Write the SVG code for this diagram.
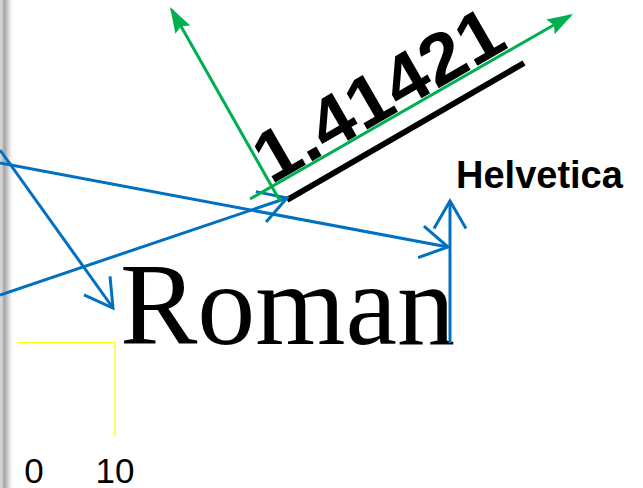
<svg xmlns="http://www.w3.org/2000/svg" width="643" height="488" viewBox="0 0 643 488">
  <style>
    .blue { stroke: #0070c0; stroke-width: 3; fill: none; }
    .green { stroke: #00b050; stroke-width: 3; fill: none; }
    .yellow { stroke: #ffff00; stroke-width: 1.2; fill: none; }
    .sans { font-family: "Liberation Sans", Arial, sans-serif; fill: #000; }
    .serif { font-family: "Liberation Serif", "Times New Roman", serif; fill: #000; }
  </style>
  <defs>
    <linearGradient id="edge" x1="0" y1="0" x2="1" y2="0">
      <stop offset="0" stop-color="#d6d6d6"/>
      <stop offset="0.18" stop-color="#cfcfcf"/>
      <stop offset="0.28" stop-color="#a6a6a6"/>
      <stop offset="0.45" stop-color="#b4b4b4"/>
      <stop offset="0.75" stop-color="#e6e6e6"/>
      <stop offset="1" stop-color="#ffffff"/>
    </linearGradient>
    <marker id="openArrow" markerUnits="userSpaceOnUse" orient="auto" overflow="visible" markerWidth="40" markerHeight="40" refX="0" refY="0">
      <path d="M -27.5 -16 L 0 0 L -27.5 16" fill="none" stroke="#0070c0" stroke-width="3"/>
    </marker>
    <marker id="solidArrow" markerUnits="userSpaceOnUse" orient="auto" overflow="visible" markerWidth="40" markerHeight="40" refX="0" refY="0">
      <path d="M 3 0 L -23 -8.5 L -19 0 L -23 8.5 Z" fill="#00b050"/>
    </marker>
  </defs>

  <rect x="0" y="0" width="643" height="488" fill="#ffffff"/>
  <rect x="0" y="0" width="13" height="488" fill="url(#edge)"/>

  <g id="ruler">
    <path class="yellow" d="M 18 342.5 H 115 V 437"/>
    <text class="sans" x="34" y="483" font-size="35" text-anchor="middle">0</text>
    <text class="sans" x="115" y="483" font-size="35" text-anchor="middle">10</text>
  </g>

  <g id="label-roman">
    <text class="serif" x="120" y="344" font-size="116">Roman</text>
  </g>

  <g id="label-helvetica">
    <text class="sans" x="456" y="188" font-size="38" font-weight="bold">Helvetica</text>
  </g>

  <g id="label-value">
    <text class="sans" transform="translate(271,185) rotate(-30)" x="0" y="0" font-size="72" font-weight="bold" textLength="276" lengthAdjust="spacingAndGlyphs">1.41421</text>
    <line x1="287" y1="200" x2="524" y2="63" stroke="#000" stroke-width="6"/>
  </g>

  <g id="connectors">
    <line class="blue" x1="0" y1="150" x2="113" y2="308" marker-end="url(#openArrow)"/>
    <line class="blue" x1="0" y1="163" x2="448" y2="247" marker-end="url(#openArrow)"/>
    <line class="blue" x1="0" y1="295" x2="287" y2="198" marker-end="url(#openArrow)"/>
    <line class="blue" x1="450" y1="343" x2="450" y2="201" marker-end="url(#openArrow)"/>
    <line class="green" x1="250" y1="199" x2="570.4" y2="15.5" marker-end="url(#solidArrow)"/>
    <line class="green" x1="280" y1="201" x2="171.5" y2="9.6" marker-end="url(#solidArrow)"/>
  </g>
</svg>
